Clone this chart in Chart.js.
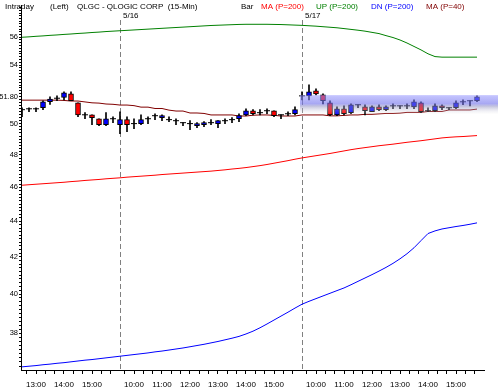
<!DOCTYPE html>
<html>
<head>
<meta charset="utf-8">
<script src="https://cdn.jsdelivr.net/npm/chart.js@4.4.0/dist/chart.umd.min.js"></script>
<style>
  html, body { margin: 0; padding: 0; background: #fff; }
  canvas { display: block; }
</style>
</head>
<body>
<canvas id="candleChart" width="498" height="391"></canvas>
<script>
// 15-min bars, 5/15 12:30 .. 5/17 15:45
const opens = [50.93, 50.99, 50.99, 51.06, 51.46, 51.70, 51.75, 52.00, 51.39, 50.59, 50.59, 50.33, 49.94, 50.33,
  49.94, 50.27, 50.01, 50.01, 50.33, 50.53, 50.40, 50.27, 50.20, 50.07, 50.01, 49.88, 49.94, 50.07, 50.01, 50.20,
  50.27, 50.33, 50.59, 50.86, 50.73, 50.86, 50.86, 50.59, 50.66, 50.66,
  51.86, 51.86, 52.20, 51.93, 51.39, 50.59, 50.99, 50.73, 51.26, 51.12, 50.79, 51.12, 50.93, 51.19, 51.19, 51.19,
  51.12, 51.39, 50.86, 50.86, 51.19, 51.06, 51.06, 51.46, 51.53, 51.53];
const highs = [51.06, 51.06, 51.06, 51.53, 51.79, 51.86, 52.13, 52.13, 51.39, 50.73, 50.59, 50.33, 50.73, 50.46,
  50.79, 50.46, 50.33, 50.59, 50.46, 50.66, 50.59, 50.46, 50.33, 50.07, 50.20, 50.07, 50.14, 50.27, 50.20, 50.33,
  50.40, 50.66, 50.99, 50.93, 50.93, 50.99, 50.86, 50.59, 50.79, 51.12,
  52.13, 52.61, 52.34, 52.00, 51.53, 51.12, 51.19, 51.32, 51.26, 51.26, 51.19, 51.26, 51.19, 51.32, 51.19, 51.32,
  51.59, 51.46, 51.06, 51.32, 51.26, 51.06, 51.53, 51.59, 51.53, 51.86];
const lows = [50.46, 50.79, 50.79, 50.93, 51.28, 51.53, 51.59, 51.53, 50.46, 50.33, 49.94, 49.88, 49.88, 50.07,
  49.36, 49.49, 49.68, 49.94, 50.01, 50.27, 50.20, 50.14, 49.94, 49.88, 49.62, 49.75, 49.81, 49.94, 49.75, 50.01,
  50.07, 50.14, 50.53, 50.59, 50.59, 50.66, 50.46, 50.33, 50.53, 50.59,
  51.59, 51.59, 51.93, 51.32, 50.53, 50.53, 50.59, 50.66, 51.06, 50.59, 50.79, 50.86, 50.86, 50.99, 50.99, 50.99,
  50.99, 50.73, 50.79, 50.79, 50.93, 50.93, 50.99, 51.26, 51.19, 51.46];
const closes = [50.93, 50.99, 50.99, 51.46, 51.64, 51.70, 52.06, 51.53, 50.59, 50.59, 50.40, 49.94, 50.33, 50.33,
  50.27, 49.94, 50.01, 50.27, 50.33, 50.53, 50.53, 50.27, 50.20, 50.07, 50.01, 50.01, 50.07, 50.07, 50.20, 50.20,
  50.27, 50.53, 50.86, 50.66, 50.73, 50.86, 50.53, 50.59, 50.66, 50.93,
  51.86, 52.13, 52.00, 51.53, 50.59, 50.99, 50.66, 51.26, 51.26, 50.86, 51.12, 50.93, 51.12, 51.19, 51.19, 51.19,
  51.46, 50.79, 50.86, 51.19, 51.06, 51.06, 51.39, 51.46, 51.53, 51.80];

const ma40 = [51.57, 51.57, 51.57, 51.57, 51.57, 51.57, 51.55, 51.51, 51.51, 51.45, 51.39, 51.37, 51.31, 51.29,
  51.24, 51.24, 51.20, 51.10, 51.10, 51.01, 51.01, 50.90, 50.84, 50.84, 50.71, 50.71, 50.68, 50.58, 50.58, 50.58,
  50.58, 50.51, 50.51, 50.56, 50.58, 50.58, 50.55, 50.51, 50.51, 50.51,
  50.58, 50.58, 50.58, 50.58, 50.52, 50.52, 50.55, 50.58, 50.58, 50.62, 50.62, 50.65, 50.68, 50.68, 50.70, 50.75,
  50.75, 50.75, 50.81, 50.81, 50.81, 50.91, 50.91, 50.91, 50.91, 50.97];
const ma200 = [46.13, 46.16, 46.19, 46.22, 46.25, 46.28, 46.31, 46.35, 46.38, 46.42, 46.45, 46.48, 46.52, 46.55,
  46.58, 46.62, 46.65, 46.68, 46.71, 46.74, 46.78, 46.81, 46.84, 46.87, 46.90, 46.93, 46.96, 46.99, 47.03, 47.07,
  47.12, 47.16, 47.21, 47.27, 47.33, 47.40, 47.48, 47.56, 47.64, 47.73,
  47.81, 47.88, 47.95, 48.02, 48.09, 48.17, 48.25, 48.33, 48.40, 48.46, 48.52, 48.58, 48.63, 48.68, 48.74, 48.80,
  48.85, 48.90, 48.96, 49.02, 49.08, 49.12, 49.15, 49.17, 49.20, 49.23];
const upBand = [56.00, 56.03, 56.07, 56.10, 56.14, 56.17, 56.21, 56.24, 56.28, 56.31, 56.35, 56.38, 56.42, 56.45,
  56.48, 56.51, 56.54, 56.57, 56.60, 56.63, 56.66, 56.69, 56.72, 56.75, 56.78, 56.81, 56.84, 56.87, 56.89, 56.91,
  56.93, 56.95, 56.96, 56.96, 56.96, 56.96, 56.95, 56.94, 56.92, 56.90,
  56.88, 56.85, 56.82, 56.78, 56.74, 56.70, 56.64, 56.58, 56.52, 56.45, 56.36, 56.27, 56.12, 55.98, 55.80, 55.58,
  55.33, 55.08, 54.80, 54.60, 54.56, 54.56, 54.56, 54.56, 54.56, 54.56];
const dnBand = [36.36, 36.39, 36.42, 36.46, 36.49, 36.53, 36.56, 36.60, 36.64, 36.68, 36.71, 36.75, 36.79, 36.83,
  36.87, 36.91, 36.95, 36.99, 37.03, 37.08, 37.12, 37.17, 37.22, 37.27, 37.33, 37.39, 37.45, 37.52, 37.59, 37.67,
  37.75, 37.84, 37.96, 38.10, 38.27, 38.46, 38.66, 38.86, 39.06, 39.27,
  39.47, 39.62, 39.76, 39.90, 40.04, 40.18, 40.32, 40.49, 40.67, 40.85, 41.03, 41.22, 41.42, 41.64, 41.89, 42.17,
  42.50, 42.90, 43.30, 43.45, 43.56, 43.63, 43.70, 43.76, 43.83, 43.91];

const dayStarts = [14, 40];
const dayLabels = ['5/16', '5/17'];
const hourTicks = [2, 6, 10, 16, 20, 24, 28, 32, 36, 42, 46, 50, 54, 58, 62];
const hourLabels = ['13:00', '14:00', '15:00', '10:00', '11:00', '12:00', '13:00', '14:00', '15:00',
  '10:00', '11:00', '12:00', '13:00', '14:00', '15:00'];
const priceLabels = [38, 40, 42, 44, 46, 48, 50, 51.80, 54, 56];
const lastPrice = 51.80;

// shaded range on the last day
const rangeStart = 40;
const rangeHigh = 51.91;
const rangeLow = 50.64;

const header = [
  { text: 'Intraday', x: 5, color: '#000' },
  { text: '(Left)', x: 50, color: '#000' },
  { text: 'QLGC - QLOGIC CORP  (15-Min)', x: 77, color: '#000' },
  { text: 'Bar', x: 241, color: '#000' },
  { text: 'MA (P=200)', x: 261, color: '#ff0000' },
  { text: 'UP (P=200)', x: 316, color: '#008000' },
  { text: 'DN (P=200)', x: 371, color: '#0000ff' },
  { text: 'MA (P=40)', x: 426, color: '#800000' }
];

const bodies = [], wicks = [], dojis = [], bodyColors = [];
opens.forEach((o, i) => {
  wicks.push({ x: i, y: [lows[i], highs[i]] });
  if (o === closes[i]) {
    dojis.push({ x: i, y: o });
  } else {
    bodies.push({ x: i, y: [o, closes[i]] });
    bodyColors.push(closes[i] > o ? '#0000ff' : '#ff0000');
  }
});
const toXY = arr => arr.map((v, i) => ({ x: i, y: v }));

const decorations = {
  id: 'decorations',
  beforeDatasetsDraw(chart) {
    const { ctx, scales: { x } } = chart;
    ctx.save();
    ctx.strokeStyle = '#808080';
    ctx.lineWidth = 1;
    ctx.setLineDash([5, 3]);
    dayStarts.forEach(d => {
      const px = Math.round(x.getPixelForValue(d)) + 0.5;
      ctx.beginPath();
      ctx.moveTo(px, 20);
      ctx.lineTo(px, chart.chartArea.bottom);
      ctx.stroke();
    });
    ctx.restore();
  },
  afterDatasetsDraw(chart) {
    const { ctx, scales: { x, y } } = chart;
    const x0 = x.getPixelForValue(rangeStart) - 2;
    const y0 = y.getPixelForValue(rangeHigh);
    const y1 = y.getPixelForValue(rangeLow);
    const g = ctx.createLinearGradient(0, y0, 0, y1);
    g.addColorStop(0, 'rgba(150,150,255,0.55)');
    g.addColorStop(0.45, 'rgba(110,110,235,0.6)');
    g.addColorStop(0.6, 'rgba(140,140,190,0.5)');
    g.addColorStop(1, 'rgba(235,235,235,0.1)');
    ctx.save();
    ctx.fillStyle = g;
    ctx.fillRect(x0, y0, chart.width - x0, y1 - y0);
    ctx.restore();
  },
  afterDraw(chart) {
    const { ctx, scales: { x } } = chart;
    ctx.save();
    ctx.font = '8px "Liberation Sans", Arial, sans-serif';
    ctx.textBaseline = 'alphabetic';
    header.forEach(h => {
      ctx.fillStyle = h.color;
      ctx.fillText(h.text, h.x, 9);
    });
    ctx.fillStyle = '#000';
    dayStarts.forEach((d, k) => {
      ctx.fillText(dayLabels[k], x.getPixelForValue(d) + 3, 18);
    });
    ctx.restore();
  }
};

new Chart(document.getElementById('candleChart'), {
  type: 'bar',
  data: {
    datasets: [
      { type: 'bar', data: bodies, backgroundColor: bodyColors, borderColor: '#000', borderWidth: 1,
        borderSkipped: false, barThickness: 5, grouped: false, order: 1 },
      { type: 'line', data: dojis, showLine: false, pointStyle: 'line', pointRadius: 3,
        pointBorderColor: '#000', pointBorderWidth: 1, order: 2 },
      { type: 'bar', data: wicks, backgroundColor: '#000', borderWidth: 0, barThickness: 1,
        grouped: false, order: 3 },
      { type: 'line', data: toXY(ma40), borderColor: '#800000', borderWidth: 1, pointRadius: 0, order: 4 },
      { type: 'line', data: toXY(ma200), borderColor: '#ff0000', borderWidth: 1, pointRadius: 0, order: 5 },
      { type: 'line', data: toXY(upBand), borderColor: '#008000', borderWidth: 1, pointRadius: 0, order: 6 },
      { type: 'line', data: toXY(dnBand), borderColor: '#0000ff', borderWidth: 1, pointRadius: 0, order: 7 }
    ]
  },
  options: {
    responsive: false,
    devicePixelRatio: 1,
    animation: false,
    layout: { padding: { top: 3, right: 14, bottom: 0, left: 0 } },
    plugins: { legend: { display: false }, tooltip: { enabled: false } },
    scales: {
      x: {
        type: 'linear',
        offset: false,
        min: -1 / 7,
        max: -1 / 7 + 463 / 7,
        grid: { offset: false, drawOnChartArea: false, drawTicks: true, tickLength: 4, color: '#000' },
        border: { display: true, color: '#000', width: 1 },
        afterFit: s => { s.height = 21; },
        afterBuildTicks: s => {
          const bounds = [0, ...dayStarts, opens.length];
          const t = [];
          for (let k = 0; k < bounds.length - 1; k++) {
            const a = bounds[k], b = bounds[k + 1];
            const h0 = hourTicks.find(h => h >= a);
            for (let v = h0 - Math.floor((h0 - a) * 3 / 4) * 4 / 3; v < b - 0.01; v += 4 / 3) t.push({ value: v });
          }
          s.ticks = t;
        },
        ticks: {
          autoSkip: false,
          maxRotation: 0,
          padding: 6,
          color: '#000',
          font: { family: '"Liberation Sans", Arial, sans-serif', size: 8 },
          callback: v => {
            const k = hourTicks.findIndex(h => Math.abs(h - v) < 0.01);
            return k < 0 ? '' : hourLabels[k];
          }
        }
      },
      y: {
        type: 'logarithmic',
        position: 'left',
        min: 36.21,
        max: 58.38,
        grid: { drawOnChartArea: false, drawTicks: true, tickLength: 2, color: '#000' },
        border: { display: true, color: '#000', width: 1 },
        afterFit: s => { s.width = 21; },
        afterBuildTicks: s => {
          const t = [];
          for (let k = 182; k <= 291; k++) t.push({ value: k / 5 });
          s.ticks = t;
        },
        ticks: {
          autoSkip: false,
          padding: 1,
          color: '#000',
          font: { family: '"Liberation Sans", Arial, sans-serif', size: 7.5 },
          callback: v => {
            const m = priceLabels.find(l => Math.abs(l - v) < 0.01);
            if (m === undefined) return '';
            return m === lastPrice ? m.toFixed(2) : String(m);
          }
        }
      }
    }
  },
  plugins: [decorations]
});
</script>
</body>
</html>
